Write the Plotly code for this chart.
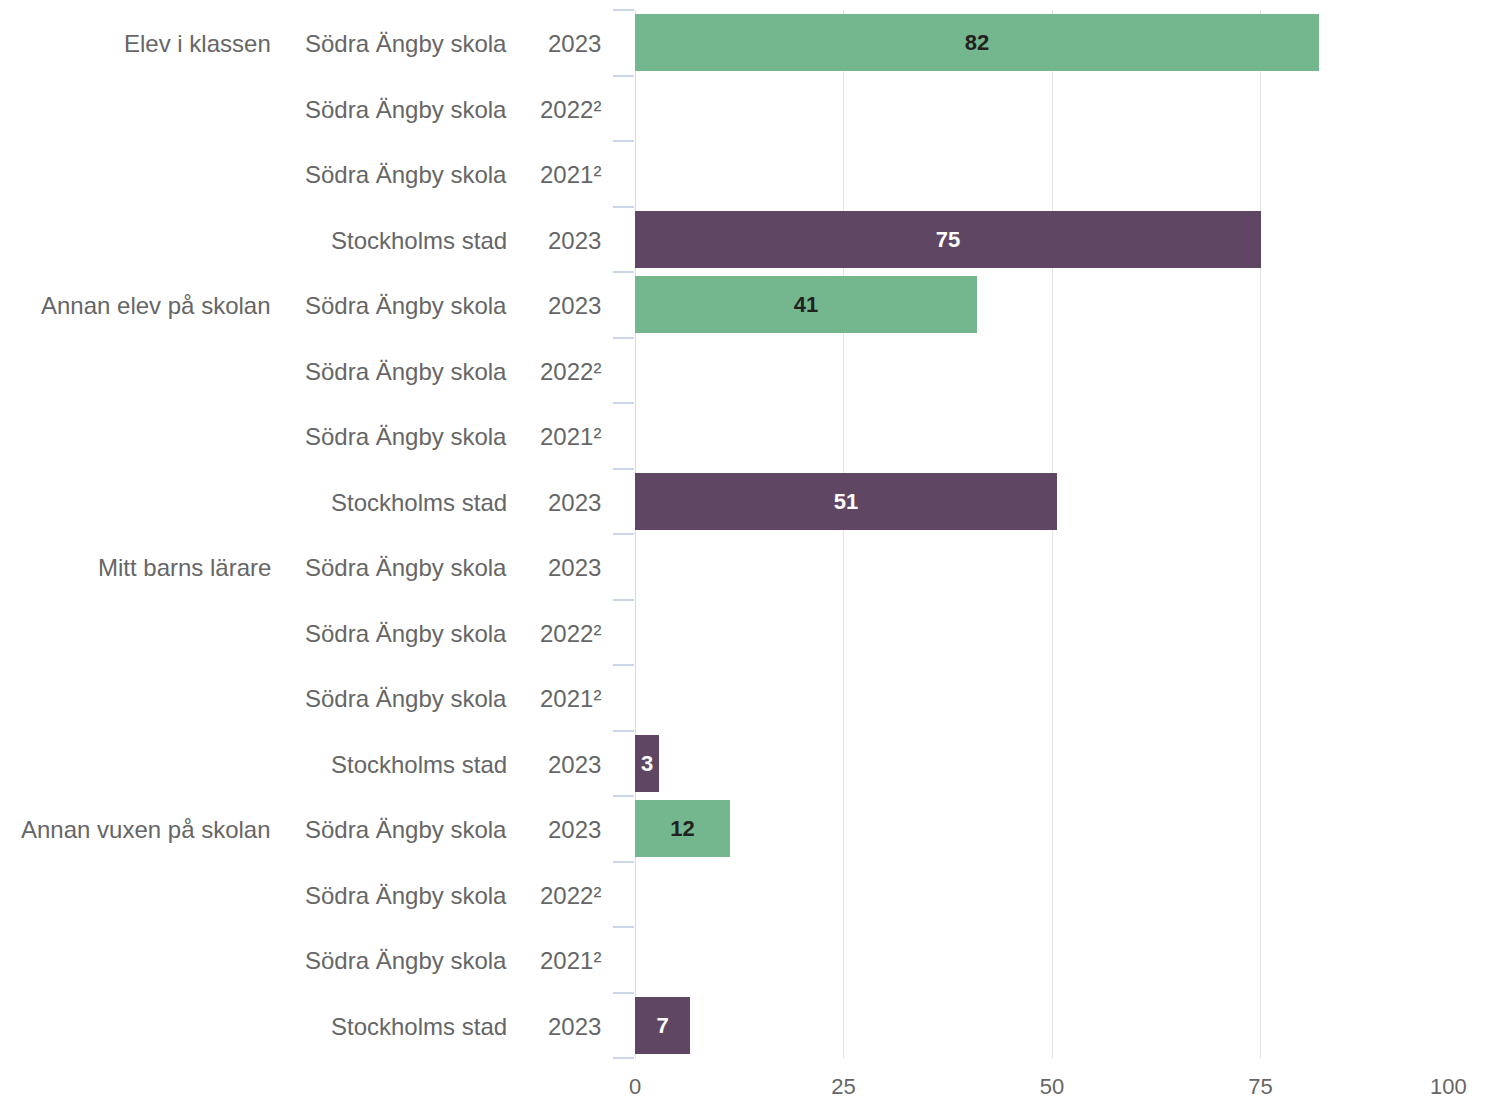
import plotly.graph_objects as go

categories = ["Elev i klassen", "", "", "",
              "Annan elev på skolan", "", "", "",
              "Mitt barns lärare", "", "", "",
              "Annan vuxen på skolan", "", "", ""]
units = ["Södra Ängby skola", "Södra Ängby skola", "Södra Ängby skola", "Stockholms stad"] * 4
years = ["2023", "2022²", "2021²", "2023"] * 4
values = [82, None, None, 75,
          41, None, None, 50.6,
          None, None, None, 2.9,
          11.4, None, None, 6.6]
value_labels = ["82", "", "", "75",
                "41", "", "", "51",
                "", "", "", "3",
                "12", "", "", "7"]
x_ticks = [0, 25, 50, 75, 100]
x_tick_labels = ["0", "25", "50", "75", "100"]

GREEN = "#74b78e"
PURPLE = "#5f4763"
FONT = "Liberation Sans, Arial, sans-serif"
LABEL_COLOR = "#666666"

n = len(values)
ypos = list(range(n))
colors = [PURPLE if u == "Stockholms stad" else GREEN for u in units]
text_colors = ["#ffffff" if u == "Stockholms stad" else "#222222" for u in units]

fig = go.Figure()
fig.add_trace(go.Bar(
    x=values, y=ypos, orientation="h",
    marker=dict(color=colors, line=dict(width=0)),
    width=0.87,
    text=value_labels,
    textposition="inside", insidetextanchor="middle",
    textangle=0,
    textfont=dict(family=FONT, size=22, color=text_colors, weight="bold"),
    hoverinfo="skip",
))

annotations = []
for i in range(n):
    if categories[i]:
        annotations.append(dict(x=0, xref="paper", y=i, yref="y", text=categories[i],
                                xanchor="right", xshift=-362, yshift=-1, showarrow=False,
                                font=dict(family=FONT, size=24, color=LABEL_COLOR)))
    annotations.append(dict(x=0, xref="paper", y=i, yref="y", text=units[i],
                            xanchor="right", xshift=-126, yshift=-1, showarrow=False,
                            font=dict(family=FONT, size=24, color=LABEL_COLOR)))
    annotations.append(dict(x=0, xref="paper", y=i, yref="y", text=years[i],
                            xanchor="right", xshift=-32, yshift=-1, showarrow=False,
                            font=dict(family=FONT, size=24, color=LABEL_COLOR)))

# last x tick label is right-aligned to the axis end (as in the reference)
annotations.append(dict(x=x_ticks[-1], xref="x", y=0, yref="paper", text=x_tick_labels[-1],
                        xanchor="right", yanchor="middle", xshift=0, yshift=-28,
                        showarrow=False, font=dict(family=FONT, size=22, color=LABEL_COLOR)))
axis_tick_text = x_tick_labels[:-1] + [""]

boundaries = [i - 0.5 for i in range(n + 1)]

fig.update_layout(
    template="none",
    width=1479, height=1092,
    margin=dict(l=627, r=18, t=2, b=42, autoexpand=False),
    paper_bgcolor="white", plot_bgcolor="white",
    showlegend=False,
    bargap=0,
    annotations=annotations,
    font=dict(family=FONT),
    xaxis=dict(range=[0, 100], tickvals=x_ticks, ticktext=axis_tick_text,
               automargin=False,
               showgrid=True, gridcolor="#e6e6e6", gridwidth=1,
               zeroline=True, zerolinecolor="#dddddd", zerolinewidth=1,
               ticks="outside", ticklen=9, tickcolor="rgba(0,0,0,0)",
               tickfont=dict(family=FONT, size=22, color=LABEL_COLOR),
               showline=False, fixedrange=True),
    yaxis=dict(range=[n - 0.5, -0.5], tickvals=boundaries, showticklabels=False,
               automargin=False,
               ticks="outside", ticklen=21, tickcolor="#ccd6eb", tickwidth=2,
               showgrid=False, zeroline=False, showline=False, fixedrange=True),
)

fig.write_html("out.html")
